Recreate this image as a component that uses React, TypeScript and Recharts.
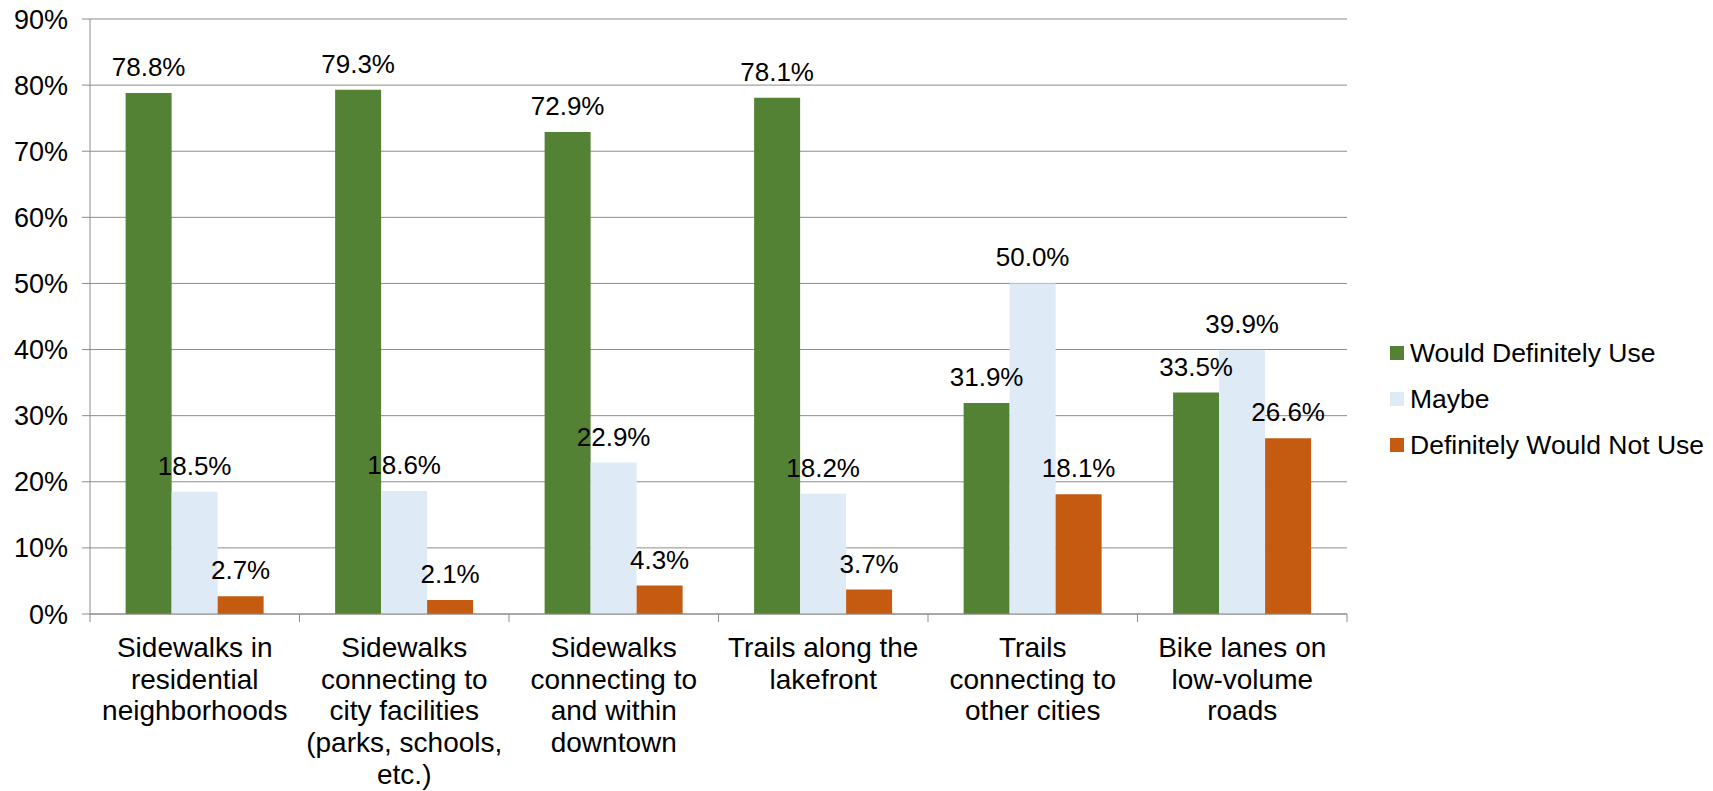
import { Bar, BarChart, CartesianGrid, LabelList, Legend, XAxis, YAxis } from 'recharts';

const categories = [
  'Sidewalks in\nresidential\nneighborhoods',
  'Sidewalks\nconnecting to\ncity facilities\n(parks, schools,\netc.)',
  'Sidewalks\nconnecting to\nand within\ndowntown',
  'Trails along the\nlakefront',
  'Trails\nconnecting to\nother cities',
  'Bike lanes on\nlow-volume\nroads',
];

const definitelyUse = [78.8, 79.3, 72.9, 78.1, 31.9, 33.5];
const maybe = [18.5, 18.6, 22.9, 18.2, 50.0, 39.9];
const wouldNotUse = [2.7, 2.1, 4.3, 3.7, 18.1, 26.6];

const yTicks = [0, 10, 20, 30, 40, 50, 60, 70, 80, 90];

const SERIES = [
  { key: 'definitely', name: 'Would Definitely Use', color: '#548235' },
  { key: 'maybe', name: 'Maybe', color: '#DEEBF7' },
  { key: 'not', name: 'Definitely Would Not Use', color: '#C55A11' },
];

const data = categories.map((category, i) => ({
  category,
  definitely: definitelyUse[i],
  maybe: maybe[i],
  not: wouldNotUse[i],
}));

const FONT = '"Liberation Sans", Arial, sans-serif';
const AXIS_GRAY = '#8c8c8c';

// category label plus the tick marks at the band edges (Excel style)
function CategoryTick({ x, y, payload, index, visibleTicksCount }: any) {
  const lines = String(payload.value).split('\n');
  const half = payload.offset ?? 0;
  const isLast = index === visibleTicksCount - 1;
  return (
    <g>
      <line x1={x - half} x2={x - half} y1={y} y2={y + 8} stroke={AXIS_GRAY} />
      {isLast && <line x1={x + half} x2={x + half} y1={y} y2={y + 8} stroke={AXIS_GRAY} />}
      <text x={x} y={y} textAnchor="middle" fontSize={28} fontFamily={FONT} fill="#000">
        {lines.map((line, i) => (
          <tspan key={i} x={x} dy={i === 0 ? 43 : 31.7}>
            {line}
          </tspan>
        ))}
      </text>
    </g>
  );
}

function LegendContent() {
  return (
    <ul style={{ listStyle: 'none', margin: 0, padding: '7px 0 0 43px', fontFamily: FONT, fontSize: 26.5 }}>
      {SERIES.map((s) => (
        <li key={s.key} style={{ display: 'flex', alignItems: 'center', height: 46, whiteSpace: 'nowrap' }}>
          <span
            style={{ display: 'inline-block', flexShrink: 0, width: 14, height: 14, background: s.color, marginRight: 6 }}
          />
          {s.name}
        </li>
      ))}
    </ul>
  );
}

export default function App() {
  return (
    <div style={{ position: 'absolute', left: 0, top: 0, background: '#fff' }}>
      <BarChart
        width={1713}
        height={791}
        data={data}
        margin={{ top: 19, right: 0, bottom: 0, left: 0 }}
        barCategoryGap="17%"
        barGap={0}
      >
        <CartesianGrid horizontal vertical={false} stroke={AXIS_GRAY} />
        <XAxis
          dataKey="category"
          height={177}
          interval={0}
          tickLine={false}
          tickSize={0}
          tickMargin={0}
          axisLine={{ stroke: AXIS_GRAY }}
          tick={<CategoryTick />}
        />
        <YAxis
          domain={[0, 90]}
          ticks={yTicks}
          width={90}
          tickFormatter={(v) => `${v}%`}
          tick={{ fontSize: 27, fontFamily: FONT, fill: '#000' }}
          tickLine={{ stroke: AXIS_GRAY }}
          tickSize={8}
          tickMargin={14}
          axisLine={{ stroke: AXIS_GRAY }}
        />
        <Legend
          layout="vertical"
          align="right"
          verticalAlign="middle"
          wrapperStyle={{ width: 366 }}
          content={<LegendContent />}
        />
        {SERIES.map((s) => (
          <Bar key={s.key} dataKey={s.key} name={s.name} fill={s.color} isAnimationActive={false}>
            <LabelList
              dataKey={s.key}
              position="top"
              offset={17}
              formatter={(v: any) => `${Number(v).toFixed(1)}%`}
              style={{ fontSize: 26, fontFamily: FONT, fill: '#000' }}
            />
          </Bar>
        ))}
      </BarChart>
    </div>
  );
}
